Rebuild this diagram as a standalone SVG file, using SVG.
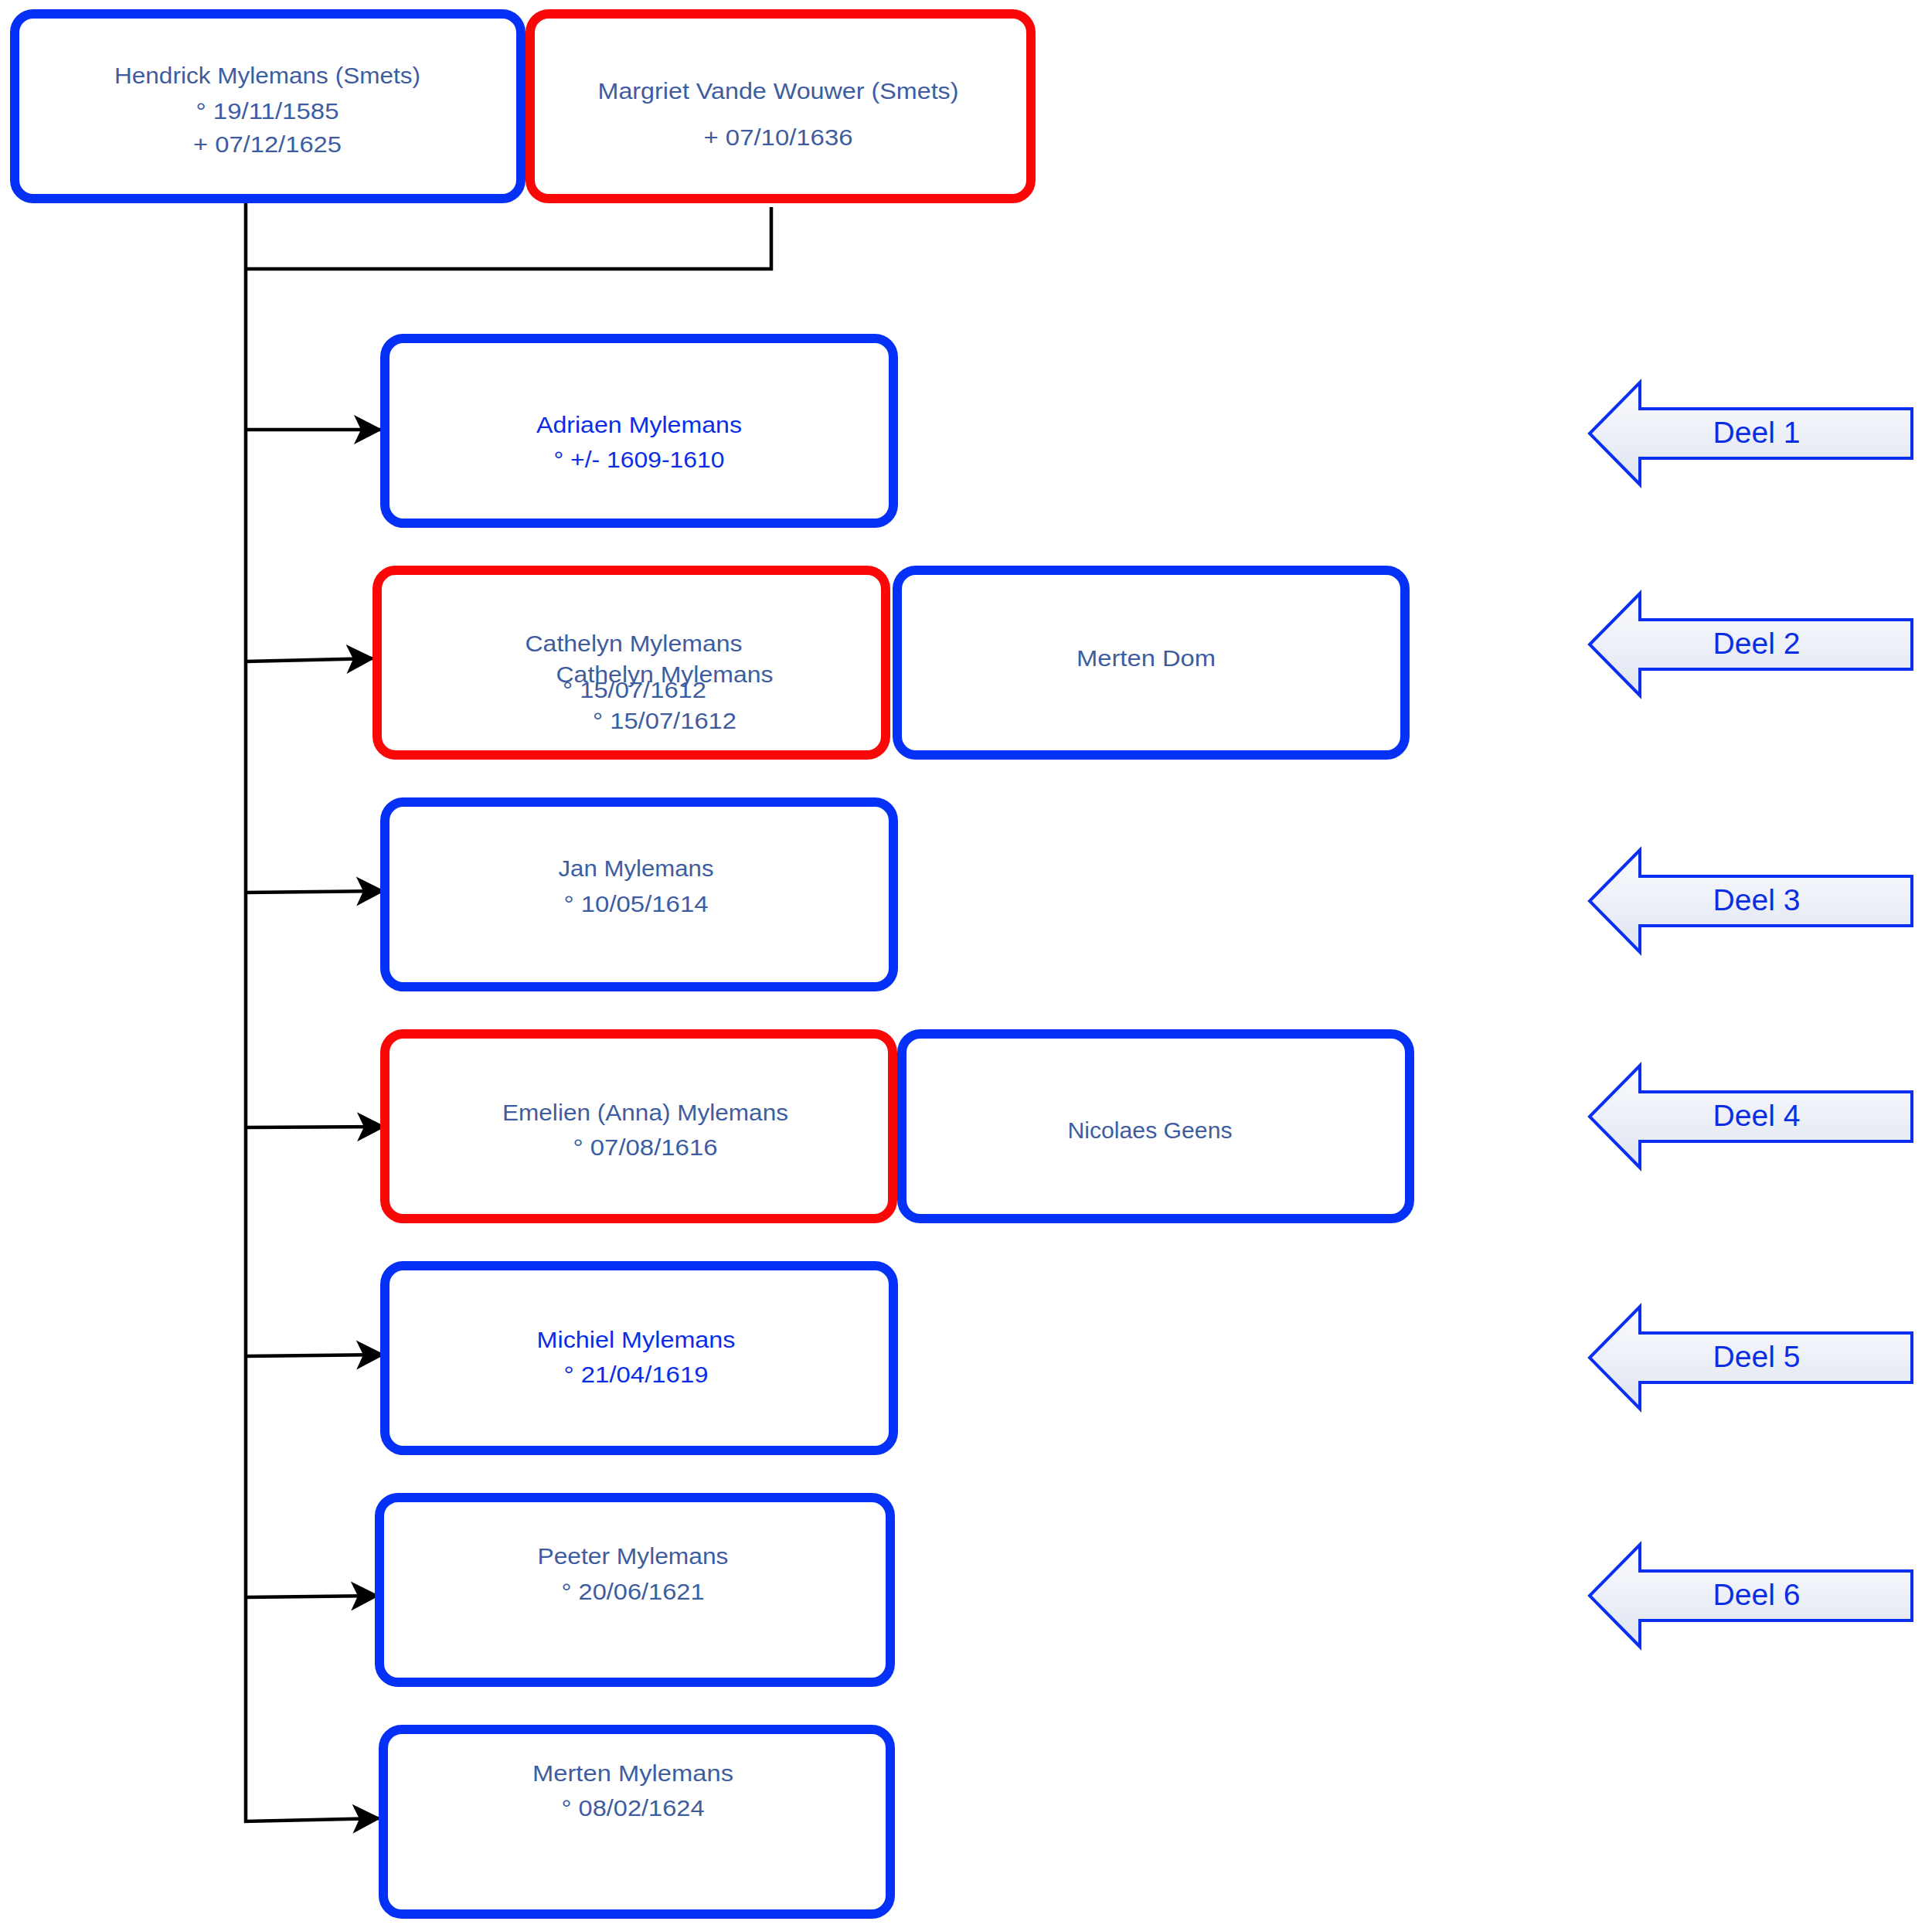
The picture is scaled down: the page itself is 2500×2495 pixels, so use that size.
<svg xmlns="http://www.w3.org/2000/svg" width="2500" height="2495" viewBox="0 0 2500 2495">
<style>
.box{fill:#fff;stroke-width:12}
.b{stroke:#0530f5}
.r{stroke:#fa0808}
.t{font-family:"Liberation Sans",Arial,sans-serif;font-size:29px;fill:#3e5d9f;text-anchor:middle}
.tb{fill:#0a2de6}
.conn{fill:none;stroke:#000;stroke-width:4.5;stroke-linejoin:miter}
.deel{fill:url(#dg);stroke:#0a2ff0;stroke-width:4;stroke-linejoin:miter}
.dt{font-family:"Liberation Sans",Arial,sans-serif;font-size:39px;fill:#0a2ee6;text-anchor:middle}
</style>
<defs>
<linearGradient id="dg" x1="0" y1="0" x2="0" y2="1">
<stop offset="0" stop-color="#fbfcfe"/>
<stop offset="1" stop-color="#dfe4f1"/>
</linearGradient>
<marker id="ah" markerUnits="userSpaceOnUse" markerWidth="40" markerHeight="44" viewBox="-38 -22 40 44" refX="0" refY="0" orient="auto">
<path d="M0,0 L-37,-19 L-28,0 L-37,19 Z" fill="#000"/>
</marker>
</defs>
<rect width="2500" height="2495" fill="#fff"/>

<g id="connectors">
<polyline class="conn" points="998,268 998,348 318,348"/>
<polyline class="conn" points="318,258 318,2357 493,2353" marker-end="url(#ah)"/>
<line class="conn" x1="318" y1="556" x2="495" y2="556" marker-end="url(#ah)"/>
<line class="conn" x1="318" y1="856" x2="485" y2="852" marker-end="url(#ah)"/>
<line class="conn" x1="318" y1="1155" x2="498" y2="1153" marker-end="url(#ah)"/>
<line class="conn" x1="318" y1="1459" x2="499" y2="1458" marker-end="url(#ah)"/>
<line class="conn" x1="318" y1="1755" x2="498" y2="1753" marker-end="url(#ah)"/>
<line class="conn" x1="318" y1="2067" x2="491" y2="2065" marker-end="url(#ah)"/>
</g>

<g id="hendrick">
<rect class="box b" x="19" y="18" width="655" height="239" rx="24"/>
<text class="t" x="346" y="108" textLength="396" lengthAdjust="spacingAndGlyphs">Hendrick Mylemans (Smets)</text>
<text class="t" x="346" y="154" textLength="185" lengthAdjust="spacingAndGlyphs">° 19/11/1585</text>
<text class="t" x="346" y="197" textLength="192" lengthAdjust="spacingAndGlyphs">+ 07/12/1625</text>
</g>

<g id="margriet">
<rect class="box r" x="686" y="18" width="648" height="239" rx="24"/>
<text class="t" x="1007" y="128" textLength="467" lengthAdjust="spacingAndGlyphs">Margriet Vande Wouwer (Smets)</text>
<text class="t" x="1007" y="188" textLength="193" lengthAdjust="spacingAndGlyphs">+ 07/10/1636</text>
</g>

<g id="adriaen">
<rect class="box b" x="498" y="438" width="658" height="239" rx="24"/>
<text class="t tb" x="827" y="560" textLength="266" lengthAdjust="spacingAndGlyphs">Adriaen Mylemans</text>
<text class="t tb" x="827" y="605" textLength="221" lengthAdjust="spacingAndGlyphs">° +/- 1609-1610</text>
</g>

<g id="cathelyn">
<rect class="box r" x="488" y="738" width="658" height="239" rx="24"/>
<text class="t" x="820" y="843" textLength="281" lengthAdjust="spacingAndGlyphs">Cathelyn Mylemans</text>
<text class="t" x="821" y="903" textLength="186" lengthAdjust="spacingAndGlyphs">° 15/07/1612</text>
<text class="t" x="860" y="883" textLength="281" lengthAdjust="spacingAndGlyphs">Cathelyn Mylemans</text>
<text class="t" x="860" y="943" textLength="186" lengthAdjust="spacingAndGlyphs">° 15/07/1612</text>
</g>

<g id="merten-dom">
<rect class="box b" x="1161" y="738" width="657" height="239" rx="24"/>
<text class="t" x="1483" y="862" textLength="180" lengthAdjust="spacingAndGlyphs">Merten Dom</text>
</g>

<g id="jan">
<rect class="box b" x="498" y="1038" width="658" height="239" rx="24"/>
<text class="t" x="823" y="1134" textLength="201" lengthAdjust="spacingAndGlyphs">Jan Mylemans</text>
<text class="t" x="823" y="1180" textLength="187" lengthAdjust="spacingAndGlyphs">° 10/05/1614</text>
</g>

<g id="emelien">
<rect class="box r" x="498" y="1338" width="657" height="239" rx="24"/>
<text class="t" x="835" y="1450" textLength="370" lengthAdjust="spacingAndGlyphs">Emelien (Anna) Mylemans</text>
<text class="t" x="835" y="1495" textLength="187" lengthAdjust="spacingAndGlyphs">° 07/08/1616</text>
</g>

<g id="nicolaes">
<rect class="box b" x="1167" y="1338" width="657" height="239" rx="24"/>
<text class="t" x="1488" y="1473" textLength="213" lengthAdjust="spacingAndGlyphs">Nicolaes Geens</text>
</g>

<g id="michiel">
<rect class="box b" x="498" y="1638" width="658" height="239" rx="24"/>
<text class="t tb" x="823" y="1744" textLength="257" lengthAdjust="spacingAndGlyphs">Michiel Mylemans</text>
<text class="t tb" x="823" y="1789" textLength="187" lengthAdjust="spacingAndGlyphs">° 21/04/1619</text>
</g>

<g id="peeter">
<rect class="box b" x="491" y="1938" width="661" height="239" rx="24"/>
<text class="t" x="819" y="2024" textLength="247" lengthAdjust="spacingAndGlyphs">Peeter Mylemans</text>
<text class="t" x="819" y="2070" textLength="185" lengthAdjust="spacingAndGlyphs">° 20/06/1621</text>
</g>

<g id="merten-mylemans">
<rect class="box b" x="496" y="2238" width="656" height="239" rx="24"/>
<text class="t" x="819" y="2305" textLength="260" lengthAdjust="spacingAndGlyphs">Merten Mylemans</text>
<text class="t" x="819" y="2350" textLength="185" lengthAdjust="spacingAndGlyphs">° 08/02/1624</text>
</g>

<g id="deel1">
<path class="deel" d="M2057,561 L2122,495 L2122,529 L2474,529 L2474,593 L2122,593 L2122,627 Z"/>
<text class="dt" x="2273" y="573" textLength="113" lengthAdjust="spacingAndGlyphs">Deel 1</text>
</g>
<g id="deel2">
<path class="deel" d="M2057,834 L2122,768 L2122,802 L2474,802 L2474,866 L2122,866 L2122,900 Z"/>
<text class="dt" x="2273" y="846" textLength="113" lengthAdjust="spacingAndGlyphs">Deel 2</text>
</g>
<g id="deel3">
<path class="deel" d="M2057,1166 L2122,1100 L2122,1134 L2474,1134 L2474,1198 L2122,1198 L2122,1232 Z"/>
<text class="dt" x="2273" y="1178" textLength="113" lengthAdjust="spacingAndGlyphs">Deel 3</text>
</g>
<g id="deel4">
<path class="deel" d="M2057,1445 L2122,1379 L2122,1413 L2474,1413 L2474,1477 L2122,1477 L2122,1511 Z"/>
<text class="dt" x="2273" y="1457" textLength="113" lengthAdjust="spacingAndGlyphs">Deel 4</text>
</g>
<g id="deel5">
<path class="deel" d="M2057,1757 L2122,1691 L2122,1725 L2474,1725 L2474,1789 L2122,1789 L2122,1823 Z"/>
<text class="dt" x="2273" y="1769" textLength="113" lengthAdjust="spacingAndGlyphs">Deel 5</text>
</g>
<g id="deel6">
<path class="deel" d="M2057,2065 L2122,1999 L2122,2033 L2474,2033 L2474,2097 L2122,2097 L2122,2131 Z"/>
<text class="dt" x="2273" y="2077" textLength="113" lengthAdjust="spacingAndGlyphs">Deel 6</text>
</g>
</svg>
